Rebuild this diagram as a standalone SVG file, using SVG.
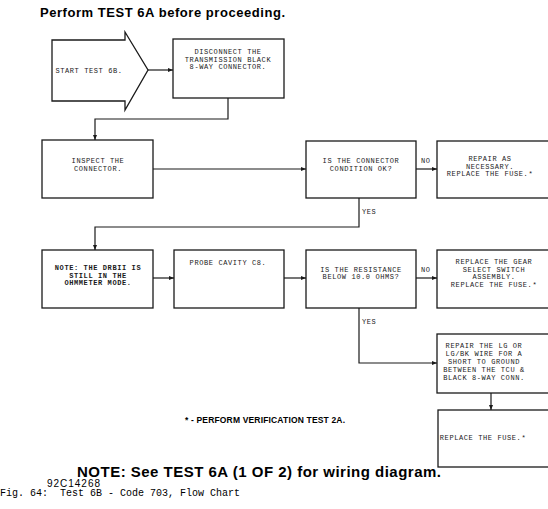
<svg xmlns="http://www.w3.org/2000/svg" width="548" height="509" viewBox="0 0 548 509">
<style>
.bx{fill:#fff;stroke:#1a1a1a;stroke-width:1.3}
.ln{fill:none;stroke:#1a1a1a;stroke-width:1.2}
.t{font-family:"Liberation Mono",monospace;font-size:7px;letter-spacing:0.6px;fill:#1a1a1a;text-anchor:middle}
.lb{font-family:"Liberation Mono",monospace;font-size:7px;letter-spacing:0.6px;fill:#1a1a1a}
.h{font-family:"Liberation Sans",Arial,sans-serif;font-weight:bold;fill:#000}
</style>
<defs>
<marker id="ah" markerWidth="6" markerHeight="6" refX="5" refY="3" orient="auto" markerUnits="userSpaceOnUse">
<path d="M0,1 L5,3 L0,5 Z" fill="#1a1a1a"/>
</marker>
</defs>
<rect width="548" height="509" fill="#fff"/>
<text class="h" x="40" y="17" font-size="13" textLength="245">Perform TEST 6A before proceeding.</text>

<g id="connectors">
<line class="ln" x1="148" y1="70" x2="173" y2="70" marker-end="url(#ah)"/>
<polyline class="ln" points="228,98 228,119 95,119 95,140" marker-end="url(#ah)"/>
<line class="ln" x1="153" y1="169" x2="306" y2="169" marker-end="url(#ah)"/>
<line class="ln" x1="416" y1="169" x2="437" y2="169" marker-end="url(#ah)"/>
<text class="lb" x="421" y="163">NO</text>
<polyline class="ln" points="359,198 359,227 95,227 95,250" marker-end="url(#ah)"/>
<text class="lb" x="362" y="214">YES</text>
<line class="ln" x1="153" y1="278" x2="174" y2="278" marker-end="url(#ah)"/>
<line class="ln" x1="284" y1="278" x2="306" y2="278" marker-end="url(#ah)"/>
<line class="ln" x1="416" y1="278" x2="437" y2="278" marker-end="url(#ah)"/>
<text class="lb" x="421" y="272">NO</text>
<polyline class="ln" points="359,308 359,363 437,363" marker-end="url(#ah)"/>
<text class="lb" x="362" y="324">YES</text>
<line class="ln" x1="491" y1="393" x2="491" y2="410" marker-end="url(#ah)"/>
</g>

<g id="start">
<path class="bx" d="M52,40 L125,40 L125,32 L148,70 L125,110 L125,101 L52,101 Z"/>
<text class="t" x="89" y="73">START TEST 6B.</text>
</g>
<g id="disconnect">
<rect class="bx" x="173" y="39" width="111" height="59"/>
<text class="t" x="228" y="54">DISCONNECT THE</text>
<text class="t" x="228" y="61.5">TRANSMISSION BLACK</text>
<text class="t" x="228" y="69">8-WAY CONNECTOR.</text>
</g>
<g id="inspect">
<rect class="bx" x="42" y="140" width="111" height="58"/>
<text class="t" x="98" y="163">INSPECT THE</text>
<text class="t" x="98" y="170.5">CONNECTOR.</text>
</g>
<g id="decision1">
<rect class="bx" x="306" y="141" width="110" height="57"/>
<text class="t" x="361" y="163">IS THE CONNECTOR</text>
<text class="t" x="361" y="171">CONDITION OK?</text>
</g>
<g id="repair1">
<rect class="bx" x="437" y="141" width="115" height="57"/>
<text class="t" x="490" y="161">REPAIR AS</text>
<text class="t" x="490" y="168.5">NECESSARY.</text>
<text class="t" x="490" y="176">REPLACE THE FUSE.*</text>
</g>
<g id="note">
<rect class="bx" x="42" y="250" width="111" height="58"/>
<text class="t" x="98" y="270" font-weight="bold">NOTE: THE DRBII IS</text>
<text class="t" x="98" y="277.5" font-weight="bold">STILL IN THE</text>
<text class="t" x="98" y="285" font-weight="bold">OHMMETER MODE.</text>
</g>
<g id="probe">
<rect class="bx" x="174" y="250" width="110" height="58"/>
<text class="t" x="228" y="265">PROBE CAVITY C8.</text>
</g>
<g id="decision2">
<rect class="bx" x="306" y="250" width="110" height="58"/>
<text class="t" x="361" y="271.5">IS THE RESISTANCE</text>
<text class="t" x="361" y="279">BELOW 10.0 OHMS?</text>
</g>
<g id="replacegear">
<rect class="bx" x="437" y="250" width="115" height="58"/>
<text class="t" x="494" y="264">REPLACE THE GEAR</text>
<text class="t" x="494" y="271.5">SELECT SWITCH</text>
<text class="t" x="494" y="279">ASSEMBLY.</text>
<text class="t" x="494" y="286.5">REPLACE THE FUSE.*</text>
</g>
<g id="repairlg">
<rect class="bx" x="437" y="334" width="115" height="59"/>
<text class="t" x="484" y="348">REPAIR THE LG OR</text>
<text class="t" x="484" y="356">LG/BK WIRE FOR A</text>
<text class="t" x="484" y="364">SHORT TO GROUND</text>
<text class="t" x="484" y="372">BETWEEN THE TCU &amp;</text>
<text class="t" x="484" y="380">BLACK 8-WAY CONN.</text>
</g>
<g id="replacefuse">
<rect class="bx" x="438" y="410" width="114" height="57"/>
<text class="t" x="483" y="440">REPLACE THE FUSE.*</text>
</g>

<text class="h" x="185" y="423" font-size="8.5" textLength="160">* - PERFORM VERIFICATION TEST 2A.</text>
<text class="h" x="77" y="477" font-size="15" textLength="364">NOTE: See TEST 6A (1 OF 2) for wiring diagram.</text>
<text x="47" y="487" font-family="Liberation Sans,Arial,sans-serif" font-size="10" textLength="53" fill="#000">92C14268</text>
<text x="0" y="496" font-family="Liberation Mono,Courier New,monospace" font-size="10" fill="#000" xml:space="preserve">Fig. 64:  Test 6B - Code 703, Flow Chart</text>
</svg>
